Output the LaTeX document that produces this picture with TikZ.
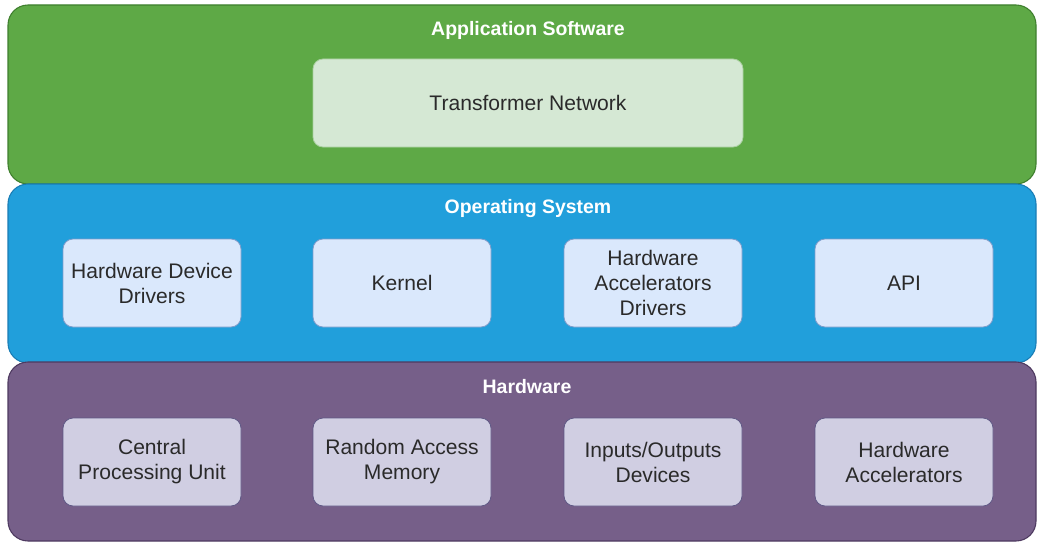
\documentclass[tikz,border=0pt]{standalone}
\usepackage{fontspec}
\setmainfont{Liberation Sans}
\definecolor{appfill}{HTML}{5EA946}
\definecolor{appline}{HTML}{3F7F2E}
\definecolor{osfill}{HTML}{219FDB}
\definecolor{osline}{HTML}{1A7DB5}
\definecolor{hwfill}{HTML}{765F89}
\definecolor{hwline}{HTML}{4E3A60}
\definecolor{appbox}{HTML}{D5E8D4}
\definecolor{appboxline}{HTML}{A9D0A0}
\definecolor{osbox}{HTML}{DAE8FC}
\definecolor{osboxline}{HTML}{7D9CCB}
\definecolor{hwbox}{HTML}{D0CEE2}
\definecolor{hwboxline}{HTML}{5F5885}
\definecolor{boxtext}{HTML}{2A2A2A}
\tikzset{
  band/.style={draw=#1line, fill=#1fill, line width=0.8pt, rounded corners=15pt,
    minimum width=771pt, minimum height=134.25pt, inner sep=0pt},
  bandtitle/.style={text=white, font=\fontsize{14.6}{17}\selectfont\bfseries, inner sep=0pt},
  unit/.style={draw=#1line, fill=#1, line width=0.6pt, rounded corners=7.5pt,
    minimum width=133.5pt, minimum height=66pt, align=center, text=boxtext,
    font=\fontsize{15.8}{18.75}\selectfont, inner sep=2pt},
}
\begin{document}
\begin{tikzpicture}[x=0.75pt, y=-0.75pt]
\useasboundingbox (0,0) rectangle (1037,542);

% layer bands
\node[band=app] (app) at (522,94.5) {};
\node[band=os]  (os)  at (522,273.5) {};
\node[band=hw]  (hw)  at (522,451.5) {};

\node[bandtitle] (apptitle) at (528,30) {Application Software};
\node[bandtitle] (ostitle)  at (528,209) {Operating System};
\node[bandtitle] (hwtitle)  at (527,387) {Hardware};

% application layer
\node[unit=appbox, minimum width=322.5pt] (tn) at (528,103) {Transformer Network};

% operating system layer
\node[unit=osbox] (hdd)  at (152,283) {Hardware Device\\Drivers};
\node[unit=osbox] (kern) at (402,283) {Kernel};
\node[unit=osbox] (had)  at (653,283) {Hardware\\Accelerators\\Drivers};
\node[unit=osbox] (api)  at (904,283) {API};

% hardware layer
\node[unit=hwbox] (cpu) at (152,462) {Central\\Processing Unit};
\node[unit=hwbox] (ram) at (402,462) {Random Access\\Memory};
\node[unit=hwbox] (io)  at (653,462) {Inputs/Outputs\\Devices};
\node[unit=hwbox] (acc) at (904,462) {Hardware\\Accelerators};
\end{tikzpicture}
\end{document}
